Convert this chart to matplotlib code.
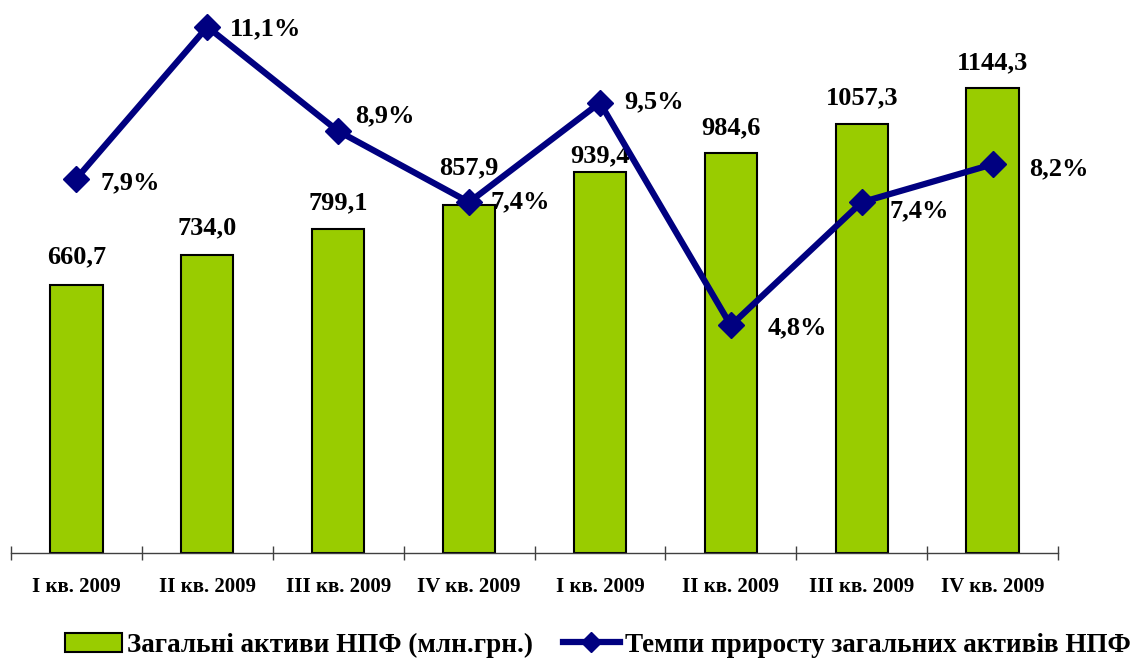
import matplotlib
matplotlib.use('Agg')
import matplotlib.pyplot as plt
from matplotlib.lines import Line2D
from matplotlib.patches import Patch

plt.rcParams['font.family'] = ['Liberation Serif', 'DejaVu Serif']
plt.rcParams['font.weight'] = 'bold'

quarters = ['I кв. 2009', 'II кв. 2009', 'III кв. 2009', 'IV кв. 2009',
            'I кв. 2009', 'II кв. 2009', 'III кв. 2009', 'IV кв. 2009']
assets = [660.7, 734.0, 799.1, 857.9, 939.4, 984.6, 1057.3, 1144.3]
growth = [7.9, 11.1, 8.9, 7.4, 9.5, 4.8, 7.4, 8.2]

bar_name = 'Загальні активи НПФ (млн.грн.)'
line_name = 'Темпи приросту загальних активів НПФ'

# label offsets in pixels (as placed in the original)
bar_lbl_dy = [28, 27, 26, 37, 16, 25, 26, 26]
line_lbl_off = [(24, -4), (23, -2), (17, 15), (21, 0),
                (24, 1), (37, -2), (28, -9), (37, -4)]

green = '#99CC00'
navy = '#000080'
px = 0.72  # pixels -> points at dpi 100

fig = plt.figure(figsize=(11.36, 6.61), dpi=100)
ax = fig.add_axes([11 / 1136, (661 - 553) / 661, 1047 / 1136, 553 / 661])
ax2 = ax.twinx()

x = list(range(len(assets)))
ax.bar(x, assets, width=0.4, color=green, edgecolor='black', linewidth=1.5, zorder=2)
ax.set_xlim(-0.5, len(assets) - 0.5)
ax.set_ylim(0, 553 / 0.406)

for i, v in enumerate(assets):
    ax.annotate(f'{v:.1f}'.replace('.', ','), (i, v), xytext=(0, bar_lbl_dy[i] * px),
                textcoords='offset points', ha='center', va='center',
                fontsize=19, fontweight='bold')

ax2.plot(x, growth, color=navy, linewidth=4.5, marker='D', markersize=13,
         zorder=3, clip_on=False)
ax2.set_ylim(0, 553 / 47.4)
for i, v in enumerate(growth):
    dx, dy = line_lbl_off[i]
    ax2.annotate(f'{v:.1f}%'.replace('.', ','), (i, v), xytext=(dx * px, dy * px),
                 textcoords='offset points', ha='left', va='center',
                 fontsize=19, fontweight='bold')

for a in (ax, ax2):
    for s in ['top', 'left', 'right']:
        a.spines[s].set_visible(False)
    a.set_yticks([])
ax2.spines['bottom'].set_visible(False)
ax.spines['bottom'].set_color('#404040')
ax.spines['bottom'].set_linewidth(1.0)

ax.set_xticks([i - 0.5 for i in range(len(assets) + 1)])
ax.set_xticklabels([])
ax.set_xticks(x, minor=True)
ax.set_xticklabels(quarters, minor=True, fontsize=15, fontweight='bold')
ax.tick_params(axis='x', which='major', direction='inout', length=10, width=1, color='#404040')
ax.tick_params(axis='x', which='minor', length=0, pad=17)

handles = [Patch(facecolor=green, edgecolor='black', linewidth=1.5),
           Line2D([], [], color=navy, linewidth=4.5, marker='D', markersize=10)]
fig.legend(handles, [bar_name, line_name], loc='center', bbox_to_anchor=(598 / 1136, 1 - 645 / 661),
           ncol=2, frameon=False, prop={'size': 19.5, 'weight': 'bold'},
           handlelength=2.1, handletextpad=0.2, columnspacing=1.1)

fig.savefig('out.png', dpi=100)
